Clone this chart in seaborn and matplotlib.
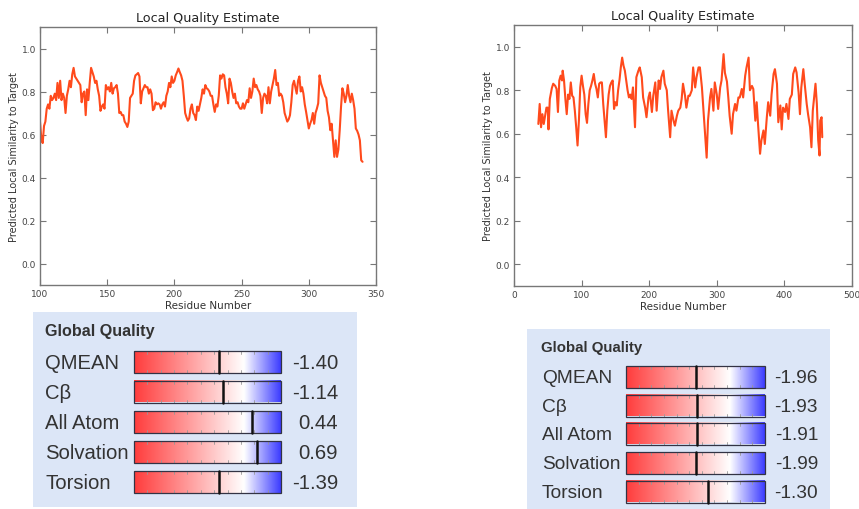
import numpy as np
import pandas as pd
import matplotlib
matplotlib.use("Agg")
import matplotlib.pyplot as plt
import seaborn as sns
from matplotlib.colors import LinearSegmentedColormap
from matplotlib.patches import Rectangle

# Local quality, model 1 (one value per residue, starting at residue 100)
left_start = 100
left_scores = [
    0.66, 0.58, 0.56, 0.64, 0.66, 0.72, 0.74, 0.72, 0.78, 0.76,
    0.77, 0.79, 0.76, 0.84, 0.77, 0.85, 0.76, 0.79, 0.77, 0.70,
    0.78, 0.81, 0.85, 0.82, 0.88, 0.91, 0.87, 0.86, 0.85, 0.84,
    0.83, 0.75, 0.79, 0.80, 0.69, 0.81, 0.76, 0.84, 0.91, 0.89,
    0.87, 0.84, 0.85, 0.81, 0.78, 0.71, 0.73, 0.74, 0.72, 0.83,
    0.81, 0.82, 0.80, 0.84, 0.79, 0.815, 0.82, 0.83, 0.79, 0.70,
    0.705, 0.69, 0.69, 0.66, 0.65, 0.635, 0.66, 0.77, 0.78, 0.79,
    0.85, 0.875, 0.88, 0.886, 0.87, 0.745, 0.80, 0.815, 0.83, 0.82,
    0.82, 0.79, 0.81, 0.79, 0.713, 0.72, 0.75, 0.74, 0.745, 0.74,
    0.72, 0.74, 0.75, 0.73, 0.78, 0.80, 0.84, 0.82, 0.87, 0.84,
    0.85, 0.875, 0.89, 0.907, 0.89, 0.875, 0.85, 0.78, 0.70, 0.68,
    0.664, 0.675, 0.72, 0.74, 0.70, 0.69, 0.667, 0.73, 0.71, 0.74,
    0.77, 0.81, 0.79, 0.83, 0.815, 0.81, 0.80, 0.78, 0.78, 0.74,
    0.705, 0.74, 0.73, 0.78, 0.875, 0.86, 0.88, 0.875, 0.82, 0.79,
    0.745, 0.86, 0.84, 0.80, 0.77, 0.79, 0.745, 0.75, 0.73, 0.72,
    0.72, 0.745, 0.72, 0.74, 0.76, 0.75, 0.815, 0.77, 0.80, 0.86,
    0.82, 0.83, 0.81, 0.80, 0.78, 0.70, 0.77, 0.79, 0.78, 0.745,
    0.82, 0.745, 0.80, 0.83, 0.86, 0.90, 0.83, 0.84, 0.78, 0.79,
    0.78, 0.75, 0.70, 0.68, 0.66, 0.67, 0.69, 0.75, 0.83, 0.85,
    0.82, 0.79, 0.85, 0.87, 0.80, 0.82, 0.79, 0.74, 0.705, 0.667,
    0.628, 0.65, 0.667, 0.70, 0.65, 0.70, 0.72, 0.745, 0.875, 0.84,
    0.82, 0.80, 0.78, 0.77, 0.71, 0.68, 0.62, 0.65, 0.573, 0.496,
    0.573, 0.496, 0.53, 0.62, 0.73, 0.815, 0.79, 0.75, 0.78, 0.83,
    0.78, 0.75, 0.79, 0.76, 0.72, 0.628, 0.617, 0.60, 0.573, 0.48,
    0.473,
]

# Local quality, model 2 (read at roughly every second residue)
right_res = [
    36, 38, 40, 42, 44, 46, 48, 50, 51, 53, 56, 58, 61, 63, 65, 67, 69, 71, 72, 74,
    76, 78, 80, 82, 84, 86, 88, 90, 92, 94, 96, 98, 100, 102, 104, 106, 108, 110, 112, 114,
    116, 118, 120, 122, 124, 126, 128, 130, 132, 134, 136, 138, 140, 142, 144, 146, 148, 150, 152, 154,
    156, 158, 160, 162, 164, 166, 168, 170, 172, 174, 176, 179, 181, 184, 186, 189, 191, 194, 196, 199,
    201, 204, 206, 209, 211, 214, 216, 218, 221, 223, 226, 228, 231, 233, 236, 238, 241, 243, 246, 248,
    250, 253, 255, 258, 260, 263, 265, 268, 270, 273, 275, 278, 280, 283, 285, 287, 290, 292, 295, 297,
    300, 302, 305, 307, 310, 312, 315, 317, 319, 322, 324, 327, 329, 332, 334, 337, 339, 342, 344, 347,
    349, 352, 354, 357, 359, 361, 364, 366, 369, 371, 374, 376, 379, 381, 384, 386, 389, 391, 394, 396,
    398, 401, 403, 406, 408, 411, 413, 416, 418, 421, 423, 425, 428, 430, 433, 435, 438, 440, 442, 444,
    446, 448, 450, 452, 453, 455, 456,
]
right_scores = [
    0.645, 0.737, 0.63, 0.69, 0.645, 0.683, 0.72, 0.72, 0.62, 0.76, 0.81, 0.83, 0.82, 0.806, 0.70, 0.845, 0.867, 0.845, 0.89, 0.845,
    0.76, 0.69, 0.78, 0.76, 0.836, 0.775, 0.767, 0.706, 0.63, 0.546, 0.66, 0.813, 0.867, 0.82, 0.78, 0.69, 0.65, 0.737, 0.80, 0.82,
    0.845, 0.875, 0.83, 0.806, 0.767, 0.83, 0.836, 0.836, 0.737, 0.66, 0.584, 0.706, 0.78, 0.82, 0.836, 0.845, 0.714, 0.745, 0.73, 0.80,
    0.845, 0.905, 0.95, 0.913, 0.89, 0.845, 0.80, 0.767, 0.78, 0.76, 0.813, 0.63, 0.86, 0.89, 0.905, 0.86, 0.767, 0.72, 0.676, 0.767,
    0.79, 0.70, 0.775, 0.836, 0.706, 0.845, 0.806, 0.86, 0.89, 0.83, 0.80, 0.706, 0.584, 0.706, 0.66, 0.637, 0.683, 0.706, 0.72, 0.76,
    0.83, 0.775, 0.72, 0.775, 0.775, 0.80, 0.905, 0.813, 0.86, 0.905, 0.905, 0.813, 0.72, 0.584, 0.49, 0.66, 0.767, 0.806, 0.706, 0.836,
    0.78, 0.714, 0.813, 0.845, 0.966, 0.88, 0.84, 0.767, 0.683, 0.60, 0.69, 0.737, 0.706, 0.767, 0.767, 0.806, 0.767, 0.867, 0.905, 0.95,
    0.80, 0.82, 0.806, 0.66, 0.745, 0.645, 0.508, 0.57, 0.615, 0.553, 0.676, 0.745, 0.683, 0.78, 0.875, 0.897, 0.83, 0.653, 0.73, 0.62,
    0.72, 0.70, 0.737, 0.668, 0.76, 0.78, 0.875, 0.905, 0.882, 0.79, 0.69, 0.813, 0.897, 0.83, 0.737, 0.69, 0.63, 0.538, 0.706, 0.767,
    0.83, 0.737, 0.57, 0.50, 0.66, 0.676, 0.584,
]

# Global quality Z-scores
metric_names = ["QMEAN", "Cβ", "All Atom", "Solvation", "Torsion"]
left_z = [-1.40, -1.14, 0.44, 0.69, -1.39]
right_z = [-1.96, -1.93, -1.91, -1.99, -1.30]
z_min, z_max = -6.0, 2.0

sns.set_theme(style="white")
plt.rcParams['font.family'] = ['DejaVu Sans']

fig = plt.figure(figsize=(8.59, 5.10), dpi=100)
W, H = 859, 510

# pixel-space overlay for the "Global Quality" panels
pan = fig.add_axes([0, 0, 1, 1])
pan.set_axis_off()

line_color = "#ff4a1c"


def local_plot(rect, df, xlim, xticks):
    ax = fig.add_axes(rect)
    sns.lineplot(data=df, x="residue", y="score", ax=ax, color=line_color, linewidth=1.5)
    ax.set_xlim(xlim)
    ax.set_ylim(-0.1, 1.1)
    ax.set_xticks(xticks)
    ax.set_yticks([0.0, 0.2, 0.4, 0.6, 0.8, 1.0])
    ax.tick_params(direction="in", length=4, width=0.8, color="#777777", labelcolor="#444444",
                   labelsize=6.5, top=True, right=True, bottom=True, left=True, pad=3)
    for s in ax.spines.values():
        s.set_color("#777777")
        s.set_linewidth(1.0)
    ax.set_title("Local Quality Estimate", fontsize=9.2, color="#222222", pad=4)
    ax.set_xlabel("Residue Number", fontsize=7.5, color="#333333", labelpad=1)
    ax.set_ylabel("Predicted Local Similarity to Target", fontsize=7, color="#333333", labelpad=2)
    return ax


left_df = pd.DataFrame({"residue": np.arange(left_start, left_start + len(left_scores)),
                        "score": left_scores})
right_df = pd.DataFrame({"residue": right_res, "score": right_scores})

local_plot([40 / W, 1 - 286 / H, 336 / W, 258 / H], left_df, (100, 350), [100, 150, 200, 250, 300, 350])
local_plot([514 / W, 1 - 287 / H, 338 / W, 261 / H], right_df, (0, 500), [0, 100, 200, 300, 400, 500])

# Global quality panels
cmap = LinearSegmentedColormap.from_list(
    "qmean", [(0.0, "#ff3c3c"), (0.45, "#ffb0b0"), (0.75, "#ffffff"), (1.0, "#3c3cff")])
gradient = np.linspace(0, 1, 256).reshape(1, -1)


def quality_panel(box, head, label_x, bar_x, bar_w, rows, val_x, zs, fs):
    bx, by, bw, bh = box
    pan.add_patch(Rectangle((bx, by), bw, bh, facecolor="#dce6f7", edgecolor="none"))
    pan.text(head[0], head[1], "Global Quality", fontsize=fs - 3, fontweight="bold",
             color="#333333", va="center", ha="left", family="Liberation Sans")
    bar_h = 22
    for name, z, yc in zip(metric_names, zs, rows):
        y0 = yc - bar_h / 2
        pan.imshow(gradient, cmap=cmap, aspect="auto", interpolation="bilinear",
                   extent=(bar_x, bar_x + bar_w, y0 + bar_h, y0), zorder=2)
        for t in np.linspace(0, 1, 12)[1:-1]:
            tx = bar_x + t * bar_w
            pan.plot([tx, tx], [y0, y0 + 3], color="#999999", lw=0.6, zorder=3)
            pan.plot([tx, tx], [y0 + bar_h - 3, y0 + bar_h], color="#999999", lw=0.6, zorder=3)
        pan.add_patch(Rectangle((bar_x, y0), bar_w, bar_h, fill=False, edgecolor="#333344",
                                lw=0.9, zorder=4))
        mx = bar_x + (z - z_min) / (z_max - z_min) * bar_w
        pan.plot([mx, mx], [y0, y0 + bar_h], color="#111111", lw=1.8, zorder=5)
        pan.text(label_x, yc + 1, name, fontsize=fs, color="#333333", va="center", ha="left",
                 family="Liberation Sans")
        pan.text(val_x, yc + 1, f"{z:.2f}", fontsize=fs, color="#333333", va="center", ha="right",
                 family="Liberation Sans")


quality_panel((33, 313, 324, 195), (45, 332), 45, 134, 147,
              [363, 392.5, 423, 453, 483], 338, left_z, 14.6)
quality_panel((527, 330, 303, 180), (541, 348), 542, 626, 139,
              [378, 406.5, 434.5, 464, 492.5], 818, right_z, 13.8)

pan.set_xlim(0, W)
pan.set_ylim(H, 0)

fig.savefig("out.png", dpi=100)
